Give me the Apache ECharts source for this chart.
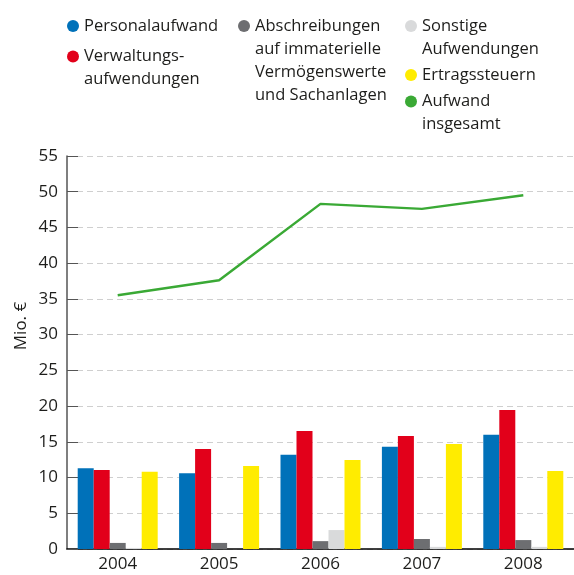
<!DOCTYPE html>
<html>
<head>
<meta charset="utf-8">
<script src="https://cdn.jsdelivr.net/npm/echarts@6/dist/echarts.min.js"></script>
<style>
  html, body { margin: 0; padding: 0; background: #fff; }
  #chart { width: 574px; height: 575px; }
</style>
</head>
<body>
<div id="chart"></div>
<script>
var years = ['2004', '2005', '2006', '2007', '2008'];
var personal = [11.3, 10.6, 13.2, 14.3, 16.0];
var verwaltung = [11.05, 14.0, 16.5, 15.8, 19.45];
var abschreibung = [0.85, 0.85, 1.1, 1.4, 1.25];
var sonstige = [0.15, 0, 2.65, 0.3, 0.3];
var steuern = [10.8, 11.6, 12.45, 14.7, 10.9];
var gesamt = [35.5, 37.6, 48.3, 47.6, 49.5];

var font = '"Open Sans", "Noto Sans", sans-serif';
var textColor = '#1d1d1b';
var lh = 23;

// circle icon pinned to the first text line
function dotIcon(lines) {
    var h = 12 + (lines - 1) * lh;
    return 'path://M0,' + h + ' M0,6 A6,6 0 1,1 12,6 A6,6 0 1,1 0,6 Z';
}

function legendFor(name, lines, left, top) {
    return {
        data: [{ name: name, icon: dotIcon(lines) }],
        left: left,
        top: top,
        padding: 0,
        itemWidth: 12,
        itemHeight: 12 + (lines - 1) * lh,
        selectedMode: false,
        textStyle: { fontFamily: font, fontSize: 16.5, color: textColor, lineHeight: lh }
    };
}

var myChart = echarts.init(document.getElementById('chart'));

var option = {
    backgroundColor: '#fff',
    animation: false,
    legend: [
        legendFor('Personalaufwand', 1, 67, 14.5),
        legendFor('Verwaltungs-\naufwendungen', 2, 67, 45),
        legendFor('Abschreibungen\nauf immaterielle\nVermögenswerte\nund Sachanlagen', 4, 238, 14.5),
        legendFor('Sonstige\nAufwendungen', 2, 405, 14.5),
        legendFor('Ertragssteuern', 1, 405, 63.5),
        legendFor('Aufwand\ninsgesamt', 2, 405, 90)
    ],
    grid: { left: 67, right: 0, top: 156, bottom: 26 },
    xAxis: {
        type: 'category',
        data: years,
        axisLine: { lineStyle: { color: '#000', width: 1.5 } },
        axisTick: { show: false },
        axisLabel: { fontFamily: font, fontSize: 17, color: textColor, margin: 7 }
    },
    yAxis: {
        type: 'value',
        min: 0,
        max: 55,
        interval: 5,
        name: 'Mio. €',
        nameLocation: 'middle',
        nameGap: 37,
        nameMoveOverlap: false,
        nameTextStyle: { fontFamily: font, fontSize: 17, color: textColor, padding: [0, 0, 0, 53] },
        axisLine: { show: true, lineStyle: { color: '#555', width: 1.5 } },
        axisTick: { show: true, inside: true, length: 11, lineStyle: { color: '#555' } },
        axisLabel: { fontFamily: font, fontSize: 17, color: textColor, margin: 9 },
        splitLine: { lineStyle: { color: '#cfcfcf', type: [6, 4], width: 1.2 } }
    },
    series: [
        { name: 'Personalaufwand', type: 'bar', data: personal, barWidth: 16, barGap: 0, itemStyle: { color: '#0071b9' } },
        { name: 'Verwaltungs-\naufwendungen', type: 'bar', data: verwaltung, barWidth: 16, barGap: 0, itemStyle: { color: '#e2001a' } },
        { name: 'Abschreibungen\nauf immaterielle\nVermögenswerte\nund Sachanlagen', type: 'bar', data: abschreibung, barWidth: 16, barGap: 0, itemStyle: { color: '#6d6e71' } },
        { name: 'Sonstige\nAufwendungen', type: 'bar', data: sonstige, barWidth: 16, barGap: 0, itemStyle: { color: '#d9dadb' } },
        { name: 'Ertragssteuern', type: 'bar', data: steuern, barWidth: 16, barGap: 0, itemStyle: { color: '#ffec00' } },
        {
            name: 'Aufwand\ninsgesamt', type: 'line', data: gesamt,
            showSymbol: false, symbol: 'none',
            itemStyle: { color: '#3aa935' },
            lineStyle: { color: '#3aa935', width: 2.5 },
            z: 5
        }
    ]
};
myChart.setOption(option);
</script>
</body>
</html>
